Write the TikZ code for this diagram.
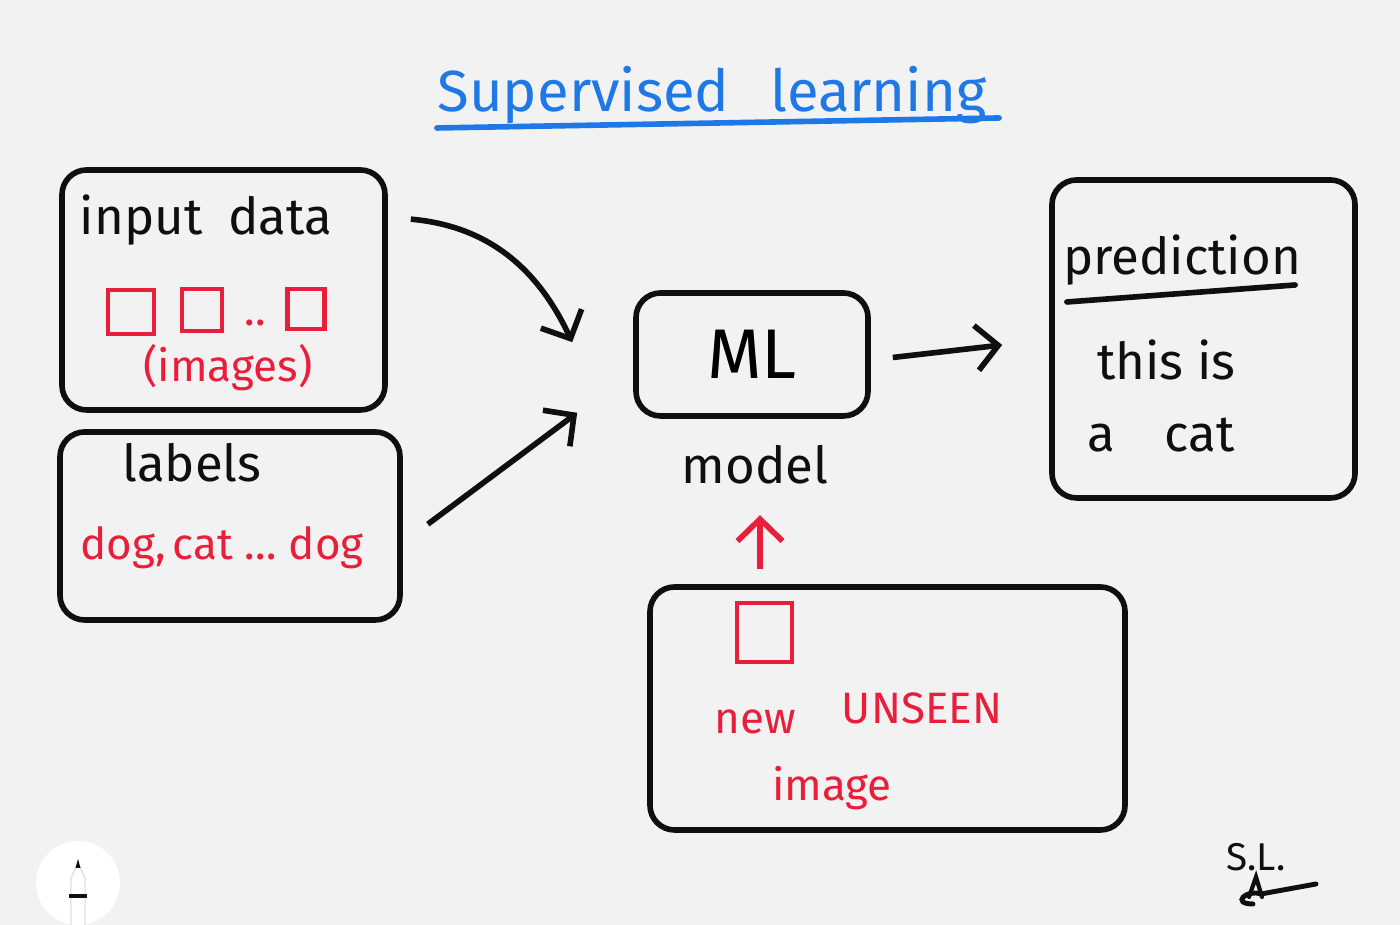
\documentclass[tikz,border=0pt]{standalone}
\usepackage{fontspec}
\setmainfont{Fira Sans}
\usetikzlibrary{arrows.meta,positioning,calc}
\definecolor{paper}{RGB}{242,242,242}
\definecolor{inkblue}{RGB}{30,120,230}
\definecolor{inkred}{RGB}{232,30,58}
\definecolor{inkblack}{RGB}{15,15,15}
\begin{document}
\begin{tikzpicture}[>=Stealth,
  sketch/.style={rectangle, rounded corners=7pt, draw=inkblack, line width=1.6pt},
  word/.style={font=\fontsize{14.5}{17}\selectfont, text=inkblack, inner sep=1pt},
  redword/.style={font=\fontsize{12.5}{15}\selectfont, text=inkred, inner sep=1pt},
  redsq/.style={rectangle, draw=inkred, line width=1.4pt, inner sep=0pt},
  pen/.style={-{Straight Barb[length=2.2mm,width=4.5mm]}, line width=1.6pt, draw=inkblack},
]
% Paper
\fill[paper] (0,0) rectangle (14,9.25);
\useasboundingbox (0,0) rectangle (14,9.25);
% Title
\node[font=\fontsize{16.5}{20}\selectfont, text=inkblue, anchor=base, inner sep=0pt] (title) at (7.12,8.13) {Supervised\hspace{0.7em}learning};
\draw[inkblue, line width=1.6pt, line cap=round] ([xshift=0.0cm,yshift=-0.16cm]title.base west) -- ([xshift=0.12cm,yshift=-0.06cm]title.base east);
% Training data
\node[sketch, minimum width=3.23cm, minimum height=2.4cm] (inbox) at (2.235,6.35) {};
\node[word] (intxt) at (2.06,7.05) {input\hspace{0.5em}data};
\node[redsq, minimum width=0.46cm, minimum height=0.44cm] (sqa) at (1.31,6.13) {};
\node[redsq, minimum width=0.40cm, minimum height=0.42cm] (sqb) at (2.02,6.15) {};
\node[redword] (dots) at (2.55,6.02) {..};
\node[redsq, minimum width=0.37cm, minimum height=0.40cm] (sqc) at (3.06,6.16) {};
\node[redword] (imgtxt) at (2.28,5.57) {(images)};
\node[sketch, minimum width=3.4cm, minimum height=1.88cm] (lblbox) at (2.30,3.99) {};
\node[word] (lbltxt) at (1.92,4.62) {labels};
\node[redword] (lblval) at (2.22,3.77) {dog,\,cat \dots\ dog};
% Model
\node[sketch, minimum width=2.32cm, minimum height=1.23cm, font=\fontsize{20}{24}\selectfont] (ml) at (7.52,5.705) {ML};
\node[word] (model) at (7.55,4.60) {model};
% Prediction
\node[sketch, minimum width=3.03cm, minimum height=3.18cm] (pred) at (12.035,5.86) {};
\node[word, anchor=base] (predtxt) at (11.82,6.50) {prediction};
\draw[inkblack, line width=1.6pt, line cap=round] ([xshift=0.08cm,yshift=-0.27cm]predtxt.base west) -- ([xshift=-0.1cm,yshift=-0.10cm]predtxt.base east);
\node[word, anchor=west] (this) at (10.93,5.65) {this is};
\node[word, anchor=west] (acat) at (10.83,4.90) {a\hspace{0.5cm}cat};
% New image
\node[sketch, minimum width=4.75cm, minimum height=2.43cm] (newbox) at (8.875,2.165) {};
\node[redsq, minimum width=0.55cm, minimum height=0.59cm] (sqn) at (7.645,2.925) {};
\node[redword] (newtxt) at (7.55,2.03) {new};
\node[redword] (unseen) at (9.22,2.17) {UNSEEN};
\node[redword] (imgnew) at (8.32,1.37) {image};
% Arrows
\draw[pen] ([xshift=0.23cm,yshift=-0.52cm]inbox.north east) to[out=-5,in=115] ([xshift=-0.61cm,yshift=-0.52cm]ml.north west);
\draw[pen] ([xshift=0.25cm,yshift=-0.95cm]lblbox.north east) -- ([xshift=-0.56cm,yshift=0.06cm]ml.south west);
\draw[pen] ([xshift=0.22cm,yshift=-0.03cm]ml.east) -- ([xshift=-0.47cm,yshift=-0.06cm]pred.west);
\draw[pen, draw=inkred] ([xshift=-1.275cm,yshift=0.15cm]newbox.north) -- ([xshift=-1.275cm,yshift=0.69cm]newbox.north);
% Signature
\node[font=\fontsize{11}{13}\selectfont, text=inkblack, inner sep=0pt] (sig) at (12.56,0.68) {S.L.};
\draw[inkblack, line width=1.4pt, line cap=round] ([xshift=-0.03cm,yshift=-0.47cm]sig.center) .. controls ([xshift=-0.25cm,yshift=-0.47cm]sig.center) and ([xshift=-0.1cm,yshift=-0.32cm]sig.center) .. ([xshift=0.05cm,yshift=-0.37cm]sig.center) -- ([xshift=0.60cm,yshift=-0.27cm]sig.center);
\draw[inkblack, line width=1.2pt, line cap=round] ([xshift=-0.07cm,yshift=-0.40cm]sig.center) -- ([xshift=0.0cm,yshift=-0.20cm]sig.center) -- ([xshift=0.06cm,yshift=-0.40cm]sig.center);
% Pencil button
\node[circle, fill=white!97!paper, minimum size=0.84cm, inner sep=0pt] (btn) at (0.78,0.42) {};
\fill[white, draw=black!12] ([xshift=-0.07cm,yshift=-0.42cm]btn.center) -- ([xshift=-0.07cm,yshift=0.05cm]btn.center) -- ([yshift=0.2cm]btn.center) -- ([xshift=0.07cm,yshift=0.05cm]btn.center) -- ([xshift=0.07cm,yshift=-0.42cm]btn.center);
\fill[inkblack] ([xshift=-0.025cm,yshift=0.15cm]btn.center) -- ([yshift=0.24cm]btn.center) -- ([xshift=0.025cm,yshift=0.15cm]btn.center) -- cycle;
\fill[inkblack] ([xshift=-0.09cm,yshift=-0.15cm]btn.center) rectangle ([xshift=0.09cm,yshift=-0.11cm]btn.center);
\end{tikzpicture}
\end{document}
